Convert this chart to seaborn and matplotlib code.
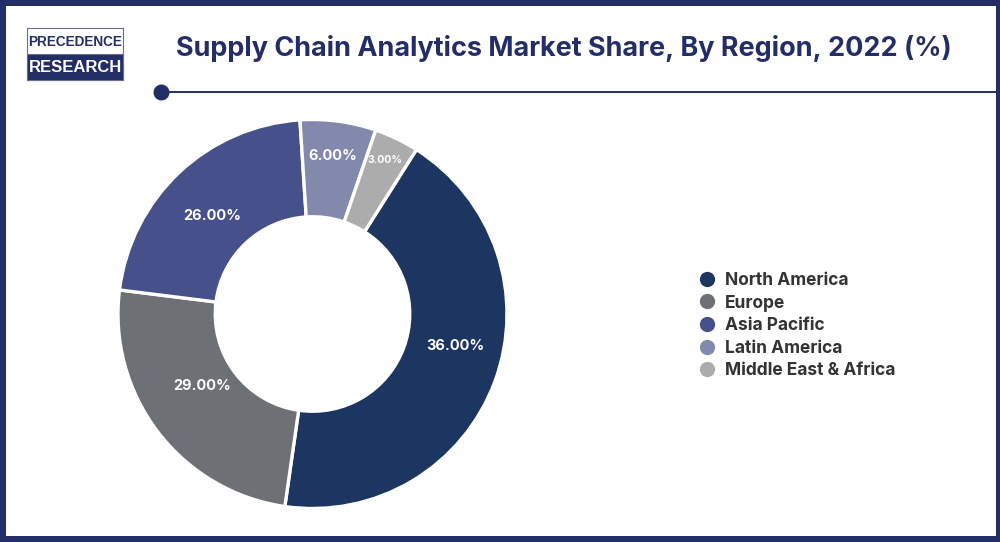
import matplotlib
matplotlib.use("Agg")
import matplotlib.pyplot as plt
from matplotlib.lines import Line2D
from matplotlib.patches import Rectangle
import seaborn as sns

# Data
regions = ["North America", "Europe", "Asia Pacific", "Latin America", "Middle East & Africa"]
# slice sizes as drawn in the picture (they do not follow the printed labels)
drawn_sizes = [43.3, 24.7, 22.0, 6.3, 3.7]
share_labels = ["36.00%", "29.00%", "26.00%", "6.00%", "3.00%"]
colors = ["#1d3661", "#6d7075", "#46508a", "#8289ad", "#acacac"]

NAVY = "#232d66"
W, H = 1000, 542

sns.set_theme(style="white")
plt.rcParams["font.family"] = ["Inter", "DejaVu Sans"]

fig = plt.figure(figsize=(W / 100, H / 100), dpi=100, facecolor="white")

# overlay in pixel coordinates for frame, logo, title
bg = fig.add_axes([0, 0, 1, 1])
bg.set_xlim(0, W)
bg.set_ylim(H, 0)
bg.axis("off")

# border
for x, y, w, h in [(0, 0, W, 6), (0, 536, W, 6), (0, 0, 6, H), (996, 0, 4, H)]:
    bg.add_patch(Rectangle((x, y), w, h, color=NAVY, lw=0))

# logo
bg.add_patch(Rectangle((27, 28), 96, 52, fc="white", ec="#6a6f90", lw=0.8))
bg.add_patch(Rectangle((27, 54), 96, 26, fc=NAVY, ec="#6a6f90", lw=0.8))
bg.text(75, 41.5, "PRECEDENCE", family="Liberation Sans", fontsize=9.8, fontweight="bold",
        color=NAVY, ha="center", va="center")
bg.text(75, 67.5, "RESEARCH", family="Liberation Sans", fontsize=12, fontweight="bold",
        color="white", ha="center", va="center")

# title and rule
bg.text(564, 49, "Supply Chain Analytics Market Share, By Region, 2022 (%)",
        fontsize=19.45, fontweight="bold", color=NAVY, ha="center", va="center")
bg.plot([161, 996], [92, 92], color=NAVY, lw=1.4, solid_capstyle="butt")
bg.plot([161], [92], "o", color=NAVY, ms=11.5, mew=0)

# donut
cx, cy, r = 312.5, 314, 194.5
ax = fig.add_axes([(cx - r) / W, 1 - (cy + r) / H, 2 * r / W, 2 * r / H])
ax.pie(drawn_sizes, colors=colors, startangle=57.7, counterclock=False, radius=1,
       wedgeprops=dict(width=0.5, edgecolor="white", linewidth=2.4))
ax.set_xlim(-1, 1)
ax.set_ylim(-1, 1)

# slice labels on a top layer
top = fig.add_axes([0, 0, 1, 1])
top.set_xlim(0, W)
top.set_ylim(H, 0)
top.axis("off")
top.patch.set_alpha(0)
label_px = [(455, 345.5), (202, 386.5), (212, 215.5), (333, 155.5), (385, 160)]
label_size = [10.5, 10.5, 10.5, 10.5, 7.5]
for txt, (x, y), fs in zip(share_labels, label_px, label_size):
    top.text(x, y, txt, color="white", fontweight="bold", fontsize=fs, ha="center", va="center")

# legend
handles = [Line2D([], [], linestyle="", marker="o", color=c, ms=11, mew=0) for c in colors]
top.legend(handles, regions, loc="upper left", bbox_to_anchor=(697 / W, 1 - 272 / H),
           bbox_transform=fig.transFigure, frameon=False, borderpad=0, borderaxespad=0,
           handletextpad=0.42, handlelength=1.2, labelspacing=0.32, labelcolor="#333333",
           prop=dict(family="Inter", weight="bold", size=12.5))

fig.savefig("out.png", dpi=100)
